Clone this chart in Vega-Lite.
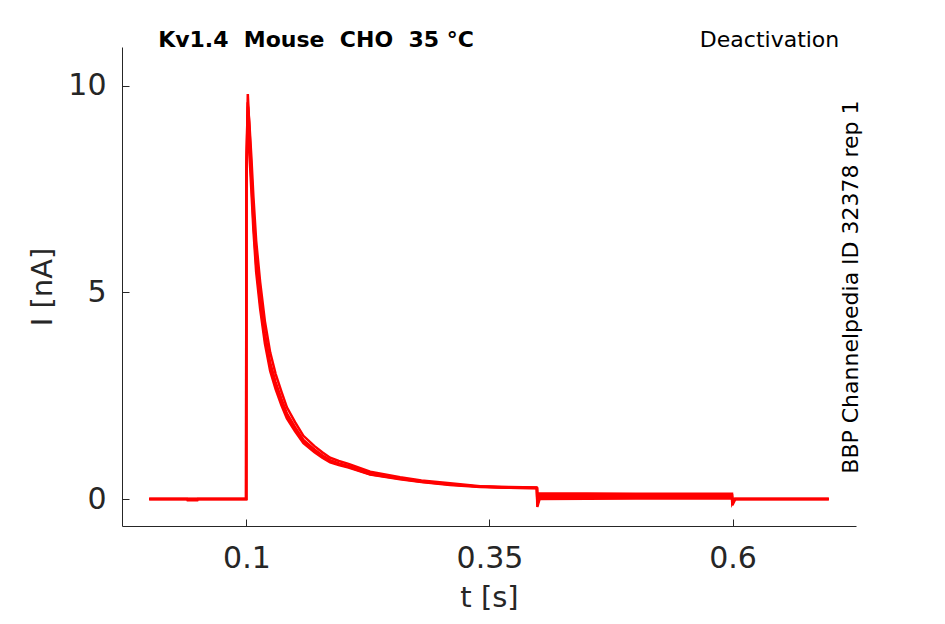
{
  "$schema": "https://vega.github.io/schema/vega-lite/v6.json",
  "width": 734,
  "height": 479,
  "autosize": "none",
  "padding": {"left": 122, "top": 47, "right": 89, "bottom": 98},
  "background": "white",
  "datasets": {
    "traces": [
      {"trace": "a", "t": 0, "I": 0},
      {"trace": "a", "t": 0.039, "I": 0},
      {"trace": "a", "t": 0.0395, "I": -0.03},
      {"trace": "a", "t": 0.0495, "I": -0.03},
      {"trace": "a", "t": 0.05, "I": 0},
      {"trace": "a", "t": 0.0997, "I": 0},
      {"trace": "a", "t": 0.0999, "I": 7.5},
      {"trace": "a", "t": 0.1016, "I": 9.5},
      {"trace": "a", "t": 0.103, "I": 9.1},
      {"trace": "a", "t": 0.105, "I": 8.3},
      {"trace": "a", "t": 0.1072, "I": 7.3},
      {"trace": "a", "t": 0.11, "I": 6.25},
      {"trace": "a", "t": 0.1141, "I": 5.25},
      {"trace": "a", "t": 0.119, "I": 4.3},
      {"trace": "a", "t": 0.1244, "I": 3.55},
      {"trace": "a", "t": 0.13, "I": 3.03},
      {"trace": "a", "t": 0.136, "I": 2.6},
      {"trace": "a", "t": 0.1416, "I": 2.22},
      {"trace": "a", "t": 0.15, "I": 1.86},
      {"trace": "a", "t": 0.1586, "I": 1.53},
      {"trace": "a", "t": 0.17, "I": 1.28},
      {"trace": "a", "t": 0.178, "I": 1.13},
      {"trace": "a", "t": 0.1861, "I": 1.0},
      {"trace": "a", "t": 0.195, "I": 0.92},
      {"trace": "a", "t": 0.205, "I": 0.85},
      {"trace": "a", "t": 0.2273, "I": 0.66},
      {"trace": "a", "t": 0.2581, "I": 0.53},
      {"trace": "a", "t": 0.28, "I": 0.45},
      {"trace": "a", "t": 0.3095, "I": 0.38},
      {"trace": "a", "t": 0.3404, "I": 0.31},
      {"trace": "a", "t": 0.37, "I": 0.29},
      {"trace": "a", "t": 0.3985, "I": 0.28},
      {"trace": "a", "t": 0.3988, "I": 0.27},
      {"trace": "a", "t": 0.3992, "I": 0.0},
      {"trace": "a", "t": 0.401, "I": 0.14},
      {"trace": "a", "t": 0.5, "I": 0.13},
      {"trace": "a", "t": 0.5995, "I": 0.13},
      {"trace": "a", "t": 0.5998, "I": -0.05},
      {"trace": "a", "t": 0.602, "I": 0.0},
      {"trace": "a", "t": 0.699, "I": 0.0},

      {"trace": "b", "t": 0, "I": 0},
      {"trace": "b", "t": 0.0997, "I": 0},
      {"trace": "b", "t": 0.0999, "I": 7.7},
      {"trace": "b", "t": 0.1012, "I": 9.3},
      {"trace": "b", "t": 0.103, "I": 8.4},
      {"trace": "b", "t": 0.105, "I": 7.5},
      {"trace": "b", "t": 0.1072, "I": 6.5},
      {"trace": "b", "t": 0.11, "I": 5.5},
      {"trace": "b", "t": 0.1141, "I": 4.6},
      {"trace": "b", "t": 0.119, "I": 3.76},
      {"trace": "b", "t": 0.1244, "I": 3.1},
      {"trace": "b", "t": 0.13, "I": 2.66},
      {"trace": "b", "t": 0.136, "I": 2.27},
      {"trace": "b", "t": 0.1416, "I": 1.95},
      {"trace": "b", "t": 0.15, "I": 1.64},
      {"trace": "b", "t": 0.1586, "I": 1.35},
      {"trace": "b", "t": 0.17, "I": 1.13},
      {"trace": "b", "t": 0.178, "I": 1.0},
      {"trace": "b", "t": 0.1861, "I": 0.89},
      {"trace": "b", "t": 0.195, "I": 0.82},
      {"trace": "b", "t": 0.205, "I": 0.76},
      {"trace": "b", "t": 0.2273, "I": 0.59},
      {"trace": "b", "t": 0.2581, "I": 0.48},
      {"trace": "b", "t": 0.28, "I": 0.41},
      {"trace": "b", "t": 0.3095, "I": 0.34},
      {"trace": "b", "t": 0.3404, "I": 0.29},
      {"trace": "b", "t": 0.37, "I": 0.27},
      {"trace": "b", "t": 0.3985, "I": 0.26},
      {"trace": "b", "t": 0.3988, "I": 0.26},
      {"trace": "b", "t": 0.3992, "I": -0.19},
      {"trace": "b", "t": 0.402, "I": 0.04},
      {"trace": "b", "t": 0.5, "I": 0.05},
      {"trace": "b", "t": 0.5995, "I": 0.05},
      {"trace": "b", "t": 0.5998, "I": -0.15},
      {"trace": "b", "t": 0.603, "I": 0.0},
      {"trace": "b", "t": 0.699, "I": 0.0},

      {"trace": "c", "t": 0, "I": 0},
      {"trace": "c", "t": 0.0997, "I": 0},
      {"trace": "c", "t": 0.0999, "I": 7.8},
      {"trace": "c", "t": 0.1014, "I": 9.8},
      {"trace": "c", "t": 0.103, "I": 9.0},
      {"trace": "c", "t": 0.105, "I": 8.0},
      {"trace": "c", "t": 0.1072, "I": 6.9},
      {"trace": "c", "t": 0.11, "I": 5.85},
      {"trace": "c", "t": 0.1141, "I": 4.9},
      {"trace": "c", "t": 0.119, "I": 4.0},
      {"trace": "c", "t": 0.1244, "I": 3.3},
      {"trace": "c", "t": 0.13, "I": 2.83},
      {"trace": "c", "t": 0.136, "I": 2.42},
      {"trace": "c", "t": 0.1416, "I": 2.07},
      {"trace": "c", "t": 0.15, "I": 1.74},
      {"trace": "c", "t": 0.1586, "I": 1.43},
      {"trace": "c", "t": 0.17, "I": 1.2},
      {"trace": "c", "t": 0.178, "I": 1.06},
      {"trace": "c", "t": 0.1861, "I": 0.94},
      {"trace": "c", "t": 0.195, "I": 0.86},
      {"trace": "c", "t": 0.205, "I": 0.8},
      {"trace": "c", "t": 0.2273, "I": 0.62},
      {"trace": "c", "t": 0.2581, "I": 0.5},
      {"trace": "c", "t": 0.28, "I": 0.43},
      {"trace": "c", "t": 0.3095, "I": 0.36},
      {"trace": "c", "t": 0.3404, "I": 0.3},
      {"trace": "c", "t": 0.37, "I": 0.28},
      {"trace": "c", "t": 0.3985, "I": 0.27},
      {"trace": "c", "t": 0.3988, "I": 0.26},
      {"trace": "c", "t": 0.3992, "I": -0.1},
      {"trace": "c", "t": 0.401, "I": 0.09},
      {"trace": "c", "t": 0.5, "I": 0.09},
      {"trace": "c", "t": 0.5995, "I": 0.09},
      {"trace": "c", "t": 0.5998, "I": -0.1},
      {"trace": "c", "t": 0.602, "I": 0.0},
      {"trace": "c", "t": 0.699, "I": 0.0},

      {"trace": "d", "t": 0, "I": 0},
      {"trace": "d", "t": 0.0997, "I": 0},
      {"trace": "d", "t": 0.0999, "I": 7.9},
      {"trace": "d", "t": 0.1013, "I": 9.6},
      {"trace": "d", "t": 0.103, "I": 8.75},
      {"trace": "d", "t": 0.105, "I": 7.75},
      {"trace": "d", "t": 0.1072, "I": 6.7},
      {"trace": "d", "t": 0.11, "I": 5.68},
      {"trace": "d", "t": 0.1141, "I": 4.75},
      {"trace": "d", "t": 0.119, "I": 3.88},
      {"trace": "d", "t": 0.1244, "I": 3.2},
      {"trace": "d", "t": 0.13, "I": 2.75},
      {"trace": "d", "t": 0.136, "I": 2.35},
      {"trace": "d", "t": 0.1416, "I": 2.01},
      {"trace": "d", "t": 0.15, "I": 1.69},
      {"trace": "d", "t": 0.1586, "I": 1.39},
      {"trace": "d", "t": 0.17, "I": 1.16},
      {"trace": "d", "t": 0.178, "I": 1.03},
      {"trace": "d", "t": 0.1861, "I": 0.91},
      {"trace": "d", "t": 0.195, "I": 0.84},
      {"trace": "d", "t": 0.205, "I": 0.78},
      {"trace": "d", "t": 0.2273, "I": 0.6},
      {"trace": "d", "t": 0.2581, "I": 0.49},
      {"trace": "d", "t": 0.28, "I": 0.42},
      {"trace": "d", "t": 0.3095, "I": 0.35},
      {"trace": "d", "t": 0.3404, "I": 0.3},
      {"trace": "d", "t": 0.37, "I": 0.275},
      {"trace": "d", "t": 0.3985, "I": 0.265},
      {"trace": "d", "t": 0.3988, "I": 0.26},
      {"trace": "d", "t": 0.3992, "I": -0.12},
      {"trace": "d", "t": 0.401, "I": 0.0},
      {"trace": "d", "t": 0.5, "I": 0.01},
      {"trace": "d", "t": 0.5995, "I": 0.01},
      {"trace": "d", "t": 0.5998, "I": -0.12},
      {"trace": "d", "t": 0.602, "I": 0.0},
      {"trace": "d", "t": 0.699, "I": 0.0}
    ],
    "notes": [
      {"kind": "title", "note": "Kv1.4\u00a0 Mouse\u00a0 CHO\u00a0 35 °C", "t": 0.0092, "I": 10.94},
      {"kind": "corner", "note": "Deactivation", "t": 0.7098, "I": 10.94},
      {"kind": "side", "note": "BBP Channelpedia ID 32378 rep 1", "t": 0.7293, "I": 5.13}
    ]
  },
  "layer": [
    {
      "data": {"name": "traces"},
      "mark": {"type": "line", "color": "#ff0000", "strokeWidth": 2.5, "clip": true},
      "encoding": {
        "x": {
          "field": "t",
          "type": "quantitative",
          "scale": {"domain": [-0.028, 0.727], "nice": false, "zero": false},
          "axis": {
            "title": "t [s]",
            "values": [0.1, 0.35, 0.6],
            "format": "~f",
            "labelPadding": 24,
            "titlePadding": 10
          }
        },
        "y": {
          "field": "I",
          "type": "quantitative",
          "scale": {"domain": [-0.653, 10.94], "nice": false, "zero": false},
          "axis": {
            "title": "I [nA]",
            "values": [0, 5, 10],
            "labelPadding": 23,
            "titlePadding": 10
          }
        },
        "detail": {"field": "trace", "type": "nominal"}
      }
    },
    {
      "data": {"name": "notes"},
      "transform": [{"filter": "datum.kind == 'title'"}],
      "mark": {
        "type": "text",
        "align": "left",
        "baseline": "alphabetic",
        "font": "DejaVu Sans",
        "fontSize": 22,
        "fontWeight": "bold",
        "color": "#000000"
      },
      "encoding": {
        "x": {"field": "t", "type": "quantitative"},
        "y": {"field": "I", "type": "quantitative"},
        "text": {"field": "note"}
      }
    },
    {
      "data": {"name": "notes"},
      "transform": [{"filter": "datum.kind == 'corner'"}],
      "mark": {
        "type": "text",
        "align": "right",
        "baseline": "alphabetic",
        "font": "DejaVu Sans",
        "fontSize": 22,
        "color": "#000000"
      },
      "encoding": {
        "x": {"field": "t", "type": "quantitative"},
        "y": {"field": "I", "type": "quantitative"},
        "text": {"field": "note"}
      }
    },
    {
      "data": {"name": "notes"},
      "transform": [{"filter": "datum.kind == 'side'"}],
      "mark": {
        "type": "text",
        "align": "center",
        "baseline": "alphabetic",
        "angle": 270,
        "font": "DejaVu Sans",
        "fontSize": 22,
        "color": "#000000"
      },
      "encoding": {
        "x": {"field": "t", "type": "quantitative"},
        "y": {"field": "I", "type": "quantitative"},
        "text": {"field": "note"}
      }
    }
  ],
  "config": {
    "view": {"stroke": null},
    "axis": {
      "grid": false,
      "domainColor": "#262626",
      "domainWidth": 1,
      "tickColor": "#262626",
      "tickSize": -7,
      "tickWidth": 1,
      "labelColor": "#262626",
      "labelFont": "DejaVu Sans",
      "labelFontSize": 30,
      "titleColor": "#262626",
      "titleFont": "DejaVu Sans",
      "titleFontSize": 29,
      "titleFontWeight": "normal"
    }
  }
}
